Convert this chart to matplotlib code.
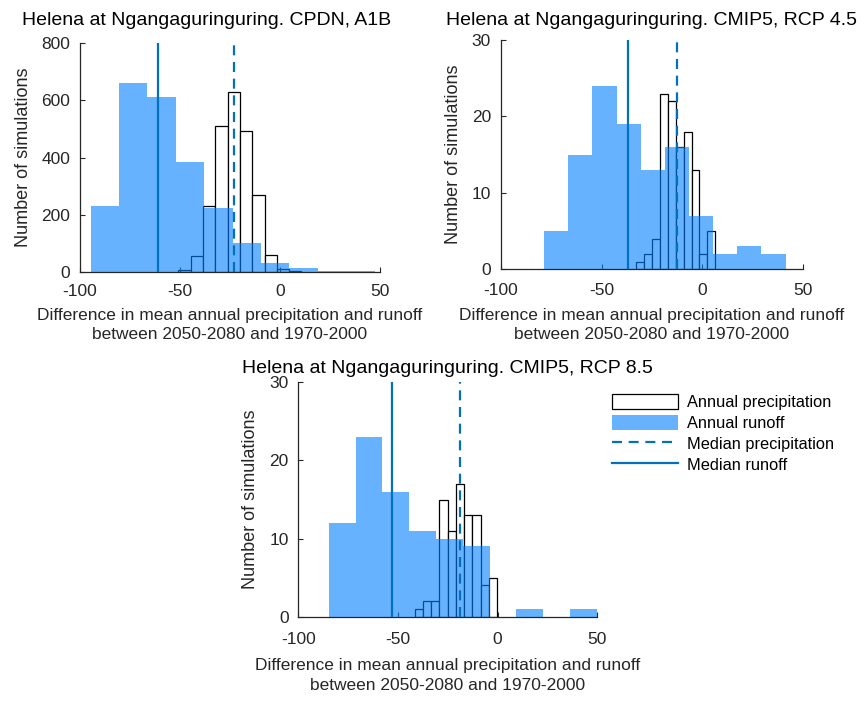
import numpy as np
import matplotlib
matplotlib.use("Agg")
import matplotlib.pyplot as plt
from matplotlib.patches import Patch
from matplotlib.lines import Line2D

plt.rcParams['font.family'] = ['Liberation Sans', 'DejaVu Sans']
plt.rcParams['axes.unicode_minus'] = False

# ---------------- data ----------------
titles = ["Helena at Ngangaguringuring. CPDN, A1B",
          "Helena at Ngangaguringuring. CMIP5, RCP 4.5",
          "Helena at Ngangaguringuring. CMIP5, RCP 8.5"]

# CPDN A1B
p1_runoff_start, p1_runoff_width = -94.7, 14.2
p1_runoff_counts = [230, 660, 610, 385, 225, 100, 30, 15, 5, 2]
p1_precip_start, p1_precip_width = -50.8, 6.15
p1_precip_counts = [8, 55, 232, 510, 630, 492, 268, 60, 10, 3]
p1_median_runoff, p1_median_precip = -60.8, -22.8

# CMIP5 RCP 4.5
p2_runoff_start, p2_runoff_width = -78.5, 11.97
p2_runoff_counts = [5, 15, 24, 19, 13, 16, 7, 2, 3, 2]
p2_precip_start, p2_precip_width = -32.9, 3.93
p2_precip_counts = [1, 2, 4, 23, 22, 16, 18, 13, 2, 5]
p2_median_runoff, p2_median_precip = -37.1, -12.8

# CMIP5 RCP 8.5
p3_runoff_start, p3_runoff_width = -84.6, 13.42
p3_runoff_counts = [12, 23, 16, 11, 10, 9, 0, 1, 0, 1]
p3_precip_start, p3_precip_width = -41.6, 4.14
p3_precip_counts = [1, 2, 2, 15, 11, 17, 13, 13, 4, 5]
p3_median_runoff, p3_median_precip = -53.0, -18.9

xticks = [-100, -50, 0, 50]
yticks_cpdn = [0, 200, 400, 600, 800]
yticks_cmip = [0, 10, 20, 30]

legend_labels = ["Annual precipitation", "Annual runoff",
                 "Median precipitation", "Median runoff"]
xlabel_text = "Difference in mean annual precipitation and runoff\nbetween 2050-2080 and 1970-2000"
ylabel_text = "Number of simulations"

# ---------------- style ----------------
W, H = 865, 702
fig = plt.figure(figsize=(W / 100, H / 100), dpi=100)

runoff_color = (0.0, 0.5, 1.0)
runoff_alpha = 0.6
median_color = "#0072BD"
axis_color = "#262626"


def ax_rect(x0, x1, ytop, ybot):
    return [x0 / W, 1 - ybot / H, (x1 - x0) / W, (ybot - ytop) / H]


def panel(rect, rstart, rwidth, rcounts, pstart, pwidth, pcounts,
          med_r, med_p, ylim, yticks, xpad, xlabelpad, lsp):
    ax = fig.add_axes(rect)
    r_edges = rstart + rwidth * np.arange(len(rcounts))
    p_edges = pstart + pwidth * np.arange(len(pcounts))
    ax.bar(p_edges, pcounts, width=pwidth, align='edge',
           facecolor='white', edgecolor='black', linewidth=0.9, zorder=1)
    ax.bar(r_edges, rcounts, width=rwidth, align='edge',
           color=runoff_color, alpha=runoff_alpha, edgecolor='none',
           linewidth=0, zorder=2)
    ax.plot([med_p, med_p], [0, ylim], color=median_color, lw=1.6,
            ls=(0, (4.5, 3)), zorder=3)
    ax.plot([med_r, med_r], [0, ylim], color=median_color, lw=1.6, zorder=3)
    ax.set_xlim(-100, 50)
    ax.set_ylim(0, ylim)
    ax.set_xticks(xticks)
    ax.set_yticks(yticks)
    for s in ['top', 'right']:
        ax.spines[s].set_visible(False)
    for s in ['left', 'bottom']:
        ax.spines[s].set_color(axis_color)
        ax.spines[s].set_linewidth(0.9)
    ax.tick_params(direction='in', length=3.5, width=0.8, colors=axis_color,
                   labelsize=12.5, labelcolor=axis_color)
    ax.tick_params(axis='x', pad=xpad)
    ax.tick_params(axis='y', pad=7)
    ax.set_xlabel(xlabel_text, fontsize=12.5, color=axis_color,
                  labelpad=xlabelpad, linespacing=lsp)
    ax.set_ylabel(ylabel_text, fontsize=13, color=axis_color, labelpad=7)
    return ax


ax1 = panel(ax_rect(80, 380, 43, 272), p1_runoff_start, p1_runoff_width,
            p1_runoff_counts, p1_precip_start, p1_precip_width,
            p1_precip_counts, p1_median_runoff, p1_median_precip, 800,
            yticks_cpdn, 9, 6, 1.35)
ax2 = panel(ax_rect(500.7, 803.3, 40, 269.3), p2_runoff_start,
            p2_runoff_width, p2_runoff_counts, p2_precip_start,
            p2_precip_width, p2_precip_counts, p2_median_runoff,
            p2_median_precip, 30, yticks_cmip, 10, 7, 1.38)
ax3 = panel(ax_rect(298.3, 597.3, 382.3, 616.7), p3_runoff_start,
            p3_runoff_width, p3_runoff_counts, p3_precip_start,
            p3_precip_width, p3_precip_counts, p3_median_runoff,
            p3_median_precip, 30, yticks_cmip, 11, 8, 1.45)

fig.text(22 / W, 1 - 25 / H, titles[0], fontsize=14, ha='left',
         va='baseline', color='black')
fig.text(652 / W, 1 - 25 / H, titles[1], fontsize=14, ha='center',
         va='baseline', color='black')
fig.text(447 / W, 1 - 373 / H, titles[2], fontsize=14, ha='center',
         va='baseline', color='black')

handles = [Patch(facecolor='white', edgecolor='black', linewidth=0.9),
           Patch(facecolor=runoff_color, alpha=runoff_alpha, edgecolor='none'),
           Line2D([0], [0], color=median_color, lw=1.6, ls=(0, (4.5, 3))),
           Line2D([0], [0], color=median_color, lw=1.6)]
fig.legend(handles, legend_labels, loc='upper left',
           bbox_to_anchor=(612 / W, 1 - 394 / H), frameon=False,
           fontsize=11.8, handlelength=4.0, handleheight=1.0,
           handletextpad=0.6, labelspacing=0.3, borderaxespad=0,
           borderpad=0)

fig.savefig("out.png", dpi=100)
